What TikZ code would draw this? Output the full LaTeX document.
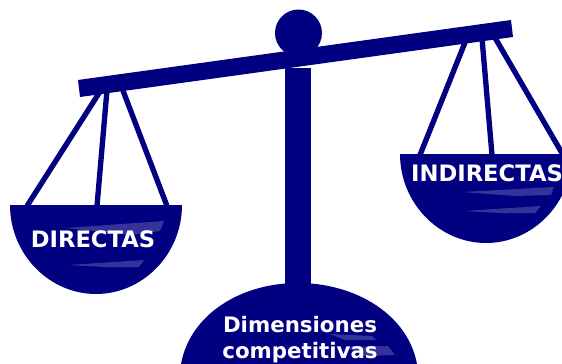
\documentclass[tikz,border=0pt]{standalone}
\usepackage{fontspec}
\setmainfont{DejaVu Sans}
\definecolor{scalenavy}{RGB}{0,0,128}
\tikzset{every picture/.style={line width=0.75pt}}
\tikzset{
  scalepart/.style={fill=scalenavy,draw=none},
  scalecord/.style={draw=scalenavy,line width=4pt},
  panshine/.style={fill=white,fill opacity=0.2,draw=none},
  panlabel/.style={text=white,font=\fontsize{17}{20}\selectfont\bfseries,inner sep=0pt,align=center},
  baselabel/.style={panlabel,font=\fontsize{16}{20}\selectfont\bfseries}
}

\begin{document}
\begin{tikzpicture}[x=0.75pt,y=0.75pt,yscale=-1,xscale=1]
	\useasboundingbox (0,0) rectangle (562,364);
	\clip (0,0) rectangle (562,364);

	%Cords of the left pan
	\draw [scalecord] (101,90) -- (27,206) ;
	\draw [scalecord] (107,90) -- (97,206) ;
	\draw [scalecord] (122,88) -- (167,206) ;
	%Cords of the right pan
	\draw [scalecord] (466,40) -- (420,155) ;
	\draw [scalecord] (482,38) -- (492,155) ;
	\draw [scalecord] (494,36) -- (566,160) ;

	%Column and pivot
	\fill [scalepart] (285,68) rectangle (311,290) ;
	\fill [scalepart] (298.5,33) circle [radius=23.5] ;
	%Beam
	\fill [scalepart] (78,80) -- (511,20) -- (513,37) -- (80,97) -- cycle ;

	%Left pan
	\fill [scalepart] (10,205) -- (182,205) .. controls (182,254) and (143,294) .. (96,294) .. controls (49,294) and (10,254) .. (10,205) -- cycle ;
	\fill [panshine] (65,228) -- (164,221) -- (160,231) -- (130,235) -- cycle ;
	\fill [panshine] (68,265) -- (144,260) -- (139,267) -- (105,267) -- cycle ;
	%Right pan
	\fill [scalepart] (400,154) -- (572,154) .. controls (572,203) and (533,243) .. (486,243) .. controls (439,243) and (400,203) .. (400,154) -- cycle ;
	\fill [panshine] (462,192) -- (554,187) -- (551,195) -- (515,196) -- cycle ;
	\fill [panshine] (464,211) -- (541,206) -- (535,213) -- (500,213) -- cycle ;
	%Base
	\fill [scalepart] (181,364) .. controls (190,315) and (240,283) .. (298,283) .. controls (356,283) and (408,315) .. (417,364) -- cycle ;
	\fill [panshine] (330,334) -- (372,336) -- (376,340) -- (345,340) -- cycle ;
	\fill [panshine] (345,347) -- (388,346) -- (395,355) -- (365,356) -- cycle ;

	% Text Node
	\node [panlabel] (directas) at (93,239) {DIRECTAS};
	\node [panlabel] (indirectas) at (487,173) {INDIRECTAS};
	\node [baselabel] (dimensiones) at (300,325) {Dimensiones};
	\node [baselabel] (competitivas) at (300,353) {competitivas};
\end{tikzpicture}
\end{document}
